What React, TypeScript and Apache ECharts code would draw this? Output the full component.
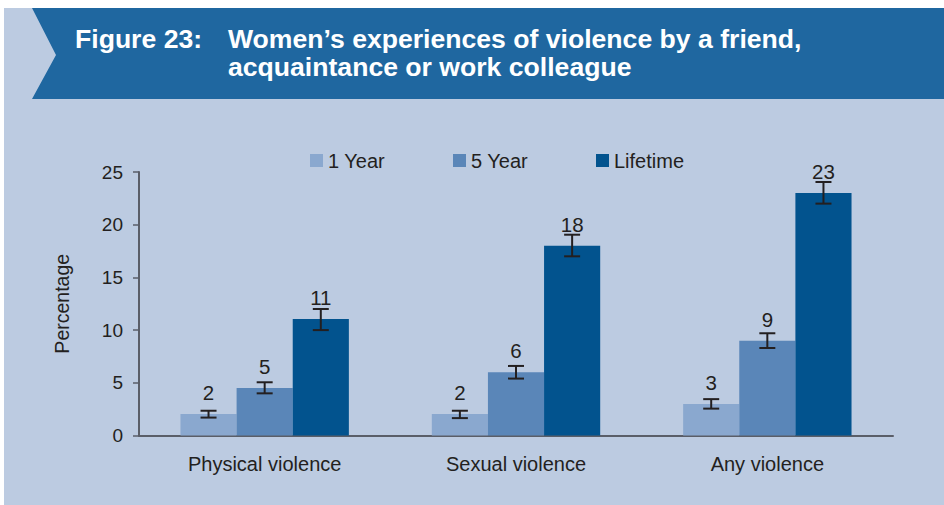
import React, { useEffect, useRef } from "react";
import * as echarts from "echarts";

const categories = ["Physical violence", "Sexual violence", "Any violence"];
const seriesNames = ["1 Year", "5 Year", "Lifetime"];
const oneYear = [2.05, 2.05, 3.0];
const fiveYear = [4.5, 6.0, 9.0];
const lifetime = [11.05, 18.0, 23.0];
const oneYearLabels = ["2", "2", "3"];
const fiveYearLabels = ["5", "6", "9"];
const lifetimeLabels = ["11", "18", "23"];
const oneYearLow = [1.7, 1.65, 2.55];
const oneYearHigh = [2.35, 2.35, 3.45];
const fiveYearLow = [4.0, 5.4, 8.3];
const fiveYearHigh = [5.05, 6.6, 9.7];
const lifetimeLow = [10.0, 17.0, 22.0];
const lifetimeHigh = [12.0, 19.05, 24.05];
const yTicks = [0, 5, 10, 15, 20, 25];

const colors = ["#8aa8cf", "#5a86b8", "#02538e"];
const FONT = "'Liberation Sans', Arial, sans-serif";
const TEXT = "#231f20";
const BAR_CAT_GAP = 0.33;

export default function App() {
  const ref = useRef<HTMLDivElement>(null);
  useEffect(() => {
    if (!ref.current) return;
    const chart = echarts.init(ref.current, null, { renderer: "svg" });
    const values = [oneYear, fiveYear, lifetime];
    const labels = [oneYearLabels, fiveYearLabels, lifetimeLabels];
    const lows = [oneYearLow, fiveYearLow, lifetimeLow];
    const highs = [oneYearHigh, fiveYearHigh, lifetimeHigh];

    const barSeries = seriesNames.map((name, si) => ({
      name,
      type: "bar",
      data: values[si],
      itemStyle: { color: colors[si] },
      barGap: "0%",
      barCategoryGap: "33%",
      label: {
        show: true,
        position: "top",
        distance: 11,
        fontFamily: FONT,
        fontSize: 20.5,
        color: TEXT,
        formatter: (p: any) => labels[si][p.dataIndex],
      },
    }));

    const errData: number[][] = [];
    for (let si = 0; si < 3; si++) {
      for (let ci = 0; ci < categories.length; ci++) {
        errData.push([ci, lows[si][ci], highs[si][ci], si]);
      }
    }

    const errSeries = {
      type: "custom",
      name: "err",
      z: 5,
      data: errData,
      encode: { x: 0, y: [1, 2] },
      renderItem: (params: any, api: any) => {
        const ci = api.value(0);
        const lo = api.value(1);
        const hi = api.value(2);
        const si = api.value(3);
        const band = api.size([1, 0])[0];
        const barW = (band * (1 - BAR_CAT_GAP)) / 3;
        const pLo = api.coord([ci, lo]);
        const pHi = api.coord([ci, hi]);
        const x = pLo[0] + (si - 1) * barW;
        const half = 8;
        const st = { stroke: TEXT, lineWidth: 2 };
        return {
          type: "group",
          children: [
            { type: "line", shape: { x1: x, y1: pLo[1], x2: x, y2: pHi[1] }, style: st },
            { type: "line", shape: { x1: x - half, y1: pLo[1], x2: x + half, y2: pLo[1] }, style: st },
            { type: "line", shape: { x1: x - half, y1: pHi[1], x2: x + half, y2: pHi[1] }, style: st },
          ],
        };
      },
    };

    const legendLefts = [305, 448, 591];
    const legends = seriesNames.map((n, i) => ({
      data: [n],
      left: legendLefts[i],
      top: 145.5,
      icon: "rect",
      itemWidth: 13,
      itemHeight: 13,
      itemGap: 5,
      textStyle: { fontFamily: FONT, fontSize: 20, color: TEXT },
      selectedMode: false,
    }));

    chart.setOption({
      animation: false,
      backgroundColor: "#ffffff",
      textStyle: { fontFamily: FONT },
      graphic: [
        { type: "rect", z: -10, shape: { x: 4, y: 8, width: 940, height: 497 }, style: { fill: "#bccbe1" } },
        {
          type: "polygon",
          z: -5,
          shape: { points: [[32, 8], [944, 8], [944, 99], [32, 99], [56, 55]] },
          style: { fill: "#1f67a0" },
        },
        {
          type: "text",
          x: 75,
          y: 38.5,
          style: { text: "Figure 23:", fill: "#ffffff", font: `bold 26.6px ${FONT}`, verticalAlign: "middle" },
        },
        {
          type: "text",
          x: 228,
          y: 38.5,
          style: {
            text: "Women\u2019s experiences of violence by a friend,",
            fill: "#ffffff",
            font: `bold 26.6px ${FONT}`,
            verticalAlign: "middle",
          },
        },
        {
          type: "text",
          x: 228,
          y: 66.5,
          style: { text: "acquaintance or work colleague", fill: "#ffffff", font: `bold 26.6px ${FONT}`, verticalAlign: "middle" },
        },
      ],
      legend: legends,
      grid: { left: 139, right: 51, top: 172, bottom: 69.5, containLabel: false },
      xAxis: {
        type: "category",
        data: categories,
        axisLine: { show: true, lineStyle: { color: "#5a5e68", width: 2 } },
        axisTick: { show: false },
        axisLabel: { margin: 18, fontFamily: FONT, fontSize: 20, color: TEXT },
      },
      yAxis: {
        type: "value",
        min: yTicks[0],
        max: yTicks[yTicks.length - 1],
        interval: 5,
        name: "Percentage",
        nameLocation: "middle",
        nameGap: 67,
        nameTextStyle: { fontFamily: FONT, fontSize: 19.5, color: TEXT },
        axisLine: { show: true, lineStyle: { color: "#5a5e68", width: 2 } },
        axisTick: { show: true, length: 6, lineStyle: { color: "#5a5e68", width: 1.5 } },
        splitLine: { show: false },
        axisLabel: { margin: 16, fontFamily: FONT, fontSize: 19, color: TEXT },
      },
      series: [...barSeries, errSeries],
    });
    return () => chart.dispose();
  }, []);
  return (
    <div
      ref={ref}
      style={{ position: "absolute", left: 0, top: 0, width: 944, height: 505 }}
    />
  );
}
